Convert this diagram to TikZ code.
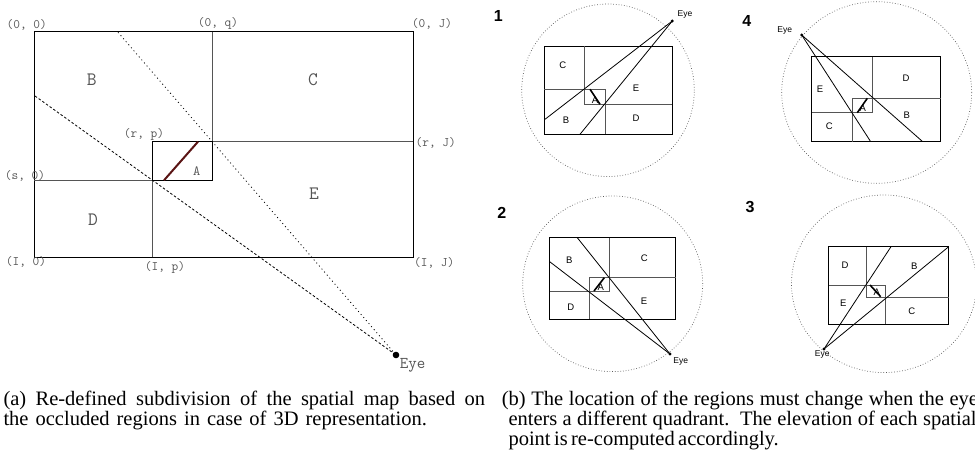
\documentclass[tikz,border=0pt]{standalone}
\usepackage{fontspec}
\setmainfont{Liberation Serif}
\setsansfont{Liberation Sans}

\begin{document}
\begin{tikzpicture}[x=1pt,y=-1pt,font=\sffamily,
  frame/.style={draw=black, line width=1.1pt},
  part/.style={draw=ink, line width=1.1pt},
  wall/.style={draw=wallred, line width=2pt},
  sight/.style={draw=black, line width=0.8pt, dash pattern=on 1pt off 3pt},
  sightdash/.style={draw=black, line width=0.8pt, dash pattern=on 2.5pt off 2pt},
  corner/.style={ink, inner sep=0pt, font=\ttfamily\fontsize{13}{13}\selectfont},
  region/.style={ink, inner sep=0pt, font=\ttfamily\fontsize{19}{19}\selectfont},
  qframe/.style={draw=black, line width=0.9pt},
  qpart/.style={draw=ink, line width=0.9pt},
  qwall/.style={draw=black, line width=1.6pt},
  ray/.style={draw=black, line width=0.8pt},
  rim/.style={draw=rimgray, line width=0.7pt, dotted},
  quad/.style={inner sep=0pt, font=\sffamily\fontsize{9.5}{10}\selectfont},
  quadno/.style={inner sep=0pt, font=\sffamily\bfseries\fontsize{16}{16}\selectfont},
  eyenote/.style={inner sep=0pt, font=\sffamily\fontsize{8.5}{9}\selectfont},
  capline/.style={anchor=base west, inner sep=0pt, font=\rmfamily\fontsize{20.5}{20}\selectfont}]
  \definecolor{ink}{RGB}{85,85,85}
  \definecolor{wallred}{RGB}{90,20,20}
  \definecolor{rimgray}{RGB}{90,90,90}

  \useasboundingbox (0,0) rectangle (975,465);
  \clip (0,0) rectangle (975,465);

  % (a) spatial map
  \draw[frame] (34.3,31.7) rectangle (413.3,257.3);
  \draw[part] (212.7,31.7) -- (212.7,180.3) -- (34.3,180.3);
  \draw[part] (152.3,257.3) -- (152.3,141.7) -- (413.3,141.7);
  \draw[frame] (152.3,141.7) rectangle (212.7,180.3);
  \draw[wall] (164,180.3) -- (198,141.7);

  \coordinate (eye) at (396,355);
  \coordinate (farB) at (118,32.3);
  \coordinate (farD) at (35,96);
  \draw[sight] (farB) -- (eye);
  \draw[sightdash] (farD) -- (eye);
  \fill (eye) circle (3.3pt);
  \node[region, font=\ttfamily\fontsize{16.5}{17}\selectfont] (eyelbl) at (412.7,365) {Eye};

  \foreach \a/\b/\x/\y in {
    0/0/26.7/25,
    0/q/218/23.3,
    0/J/432/24.3,
    r/p/144/134,
    r/J/435.7/142.7,
    s/0/25/175.7,
    I/0/26/261.7,
    I/p/165/267.7,
    I/J/434.3/262.7
  } {
    \node[corner] (pt\a\b) at (\x,\y) {(\a, \b)};
  }

  \foreach \r/\x/\y in {B/91.7/80, C/313/80, D/93/220, E/314/194} {
    \node[region] (reg\r) at (\x,\y) {\r};
  }
  \node[region, font=\ttfamily\fontsize{14}{14}\selectfont] (regA) at (196.7,170.7) {A};

  % quadrant 1
  \node[quadno] (no1) at (498.3,15.7) {1};
  \draw[rim] (608,90.3) circle (86.3pt);
  \draw[qframe] (544.3,46) rectangle (672.3,134.3);
  \draw[qpart] (584.3,46) -- (584.3,104.3) -- (672.3,104.3);
  \draw[qpart] (544.3,89.3) -- (605,89.3) -- (605,134.3);
  \draw[qwall] (590,89.3) -- (600,104.3);
  \coordinate (eye1) at (672.3,21);
  \coordinate (end1a) at (545,119.3);
  \coordinate (end1b) at (580,134.3);
  \draw[ray] (eye1) -- (end1a);
  \draw[ray] (eye1) -- (end1b);
  \fill (eye1) circle (1.6pt);
  \node[eyenote] (eyelbl1) at (685,14.7) {Eye};
  \foreach \r/\x/\y in {C/562.7/65, E/636/88.3, A/595/100, B/566/120.7, D/636/118.3} {
    \node[quad] (q1\r) at (\x,\y) {\r};
  }

  % quadrant 4
  \node[quadno] (no4) at (746.7,20.7) {4};
  \draw[rim] (876.7,92.5) ellipse [x radius=95pt, y radius=90.8pt];
  \draw[qframe] (811.7,56.7) rectangle (940.7,141.7);
  \draw[qpart] (872.3,56.7) -- (872.3,112.7) -- (811.7,112.7);
  \draw[qpart] (940.7,98.3) -- (852.3,98.3) -- (852.3,141.7);
  \draw[qwall] (857.3,112.7) -- (867.3,98.3);
  \coordinate (eye4) at (801.7,35);
  \coordinate (end4a) at (870.7,141.7);
  \coordinate (end4b) at (922.7,141.7);
  \draw[ray] (eye4) -- (end4a);
  \draw[ray] (eye4) -- (end4b);
  \fill (eye4) circle (1.6pt);
  \node[eyenote] (eyelbl4) at (784.7,30) {Eye};
  \foreach \r/\x/\y in {D/906/78.3, E/820/89.3, A/862.7/108.3, B/906.7/115, C/829.3/126.7} {
    \node[quad] (q4\r) at (\x,\y) {\r};
  }

  % quadrant 2
  \node[quadno] (no2) at (501.7,212.7) {2};
  \draw[rim] (612.7,283.8) ellipse [x radius=90pt, y radius=87.8pt];
  \draw[qframe] (549.7,237.7) rectangle (675.7,319);
  \draw[qpart] (609.3,237.7) -- (609.3,291) -- (549.7,291);
  \draw[qpart] (675.7,277.7) -- (589.3,277.7) -- (589.3,319);
  \draw[qwall] (594,291) -- (604.3,277.7);
  \coordinate (eye2) at (670,354);
  \coordinate (end2a) at (577.3,237.7);
  \coordinate (end2b) at (549.7,261.7);
  \draw[ray] (eye2) -- (end2a);
  \draw[ray] (eye2) -- (end2b);
  \fill (eye2) circle (1.6pt);
  \node[eyenote] (eyelbl2) at (680.8,361.7) {Eye};
  \foreach \r/\x/\y in {B/569.3/260, C/644.3/258.3, A/600.7/287.7, E/644/301, D/570.7/307.3} {
    \node[quad] (q2\r) at (\x,\y) {\r};
  }

  % quadrant 3
  \node[quadno] (no3) at (750,206.7) {3};
  \draw[rim] (884,283.8) ellipse [x radius=92.5pt, y radius=88.8pt];
  \draw[qframe] (828.7,246.7) rectangle (948.7,324.3);
  \draw[qpart] (866,246.7) -- (866,297.7) -- (948.7,297.7);
  \draw[qpart] (828.7,285) -- (885.3,285) -- (885.3,324.3);
  \draw[qwall] (870,285) -- (880.7,296.7);
  \coordinate (eye3) at (824,349);
  \coordinate (end3a) at (891,246.7);
  \coordinate (end3b) at (948.7,246.7);
  \draw[ray] (eye3) -- (end3a);
  \draw[ray] (eye3) -- (end3b);
  \fill (eye3) circle (1.6pt);
  \node[eyenote] (eyelbl3) at (822.3,354.5) {Eye};
  \foreach \r/\x/\y in {D/845/265, B/914.3/266, A/876.7/292.3, E/843.3/303.3, C/911.7/311.7} {
    \node[quad] (q3\r) at (\x,\y) {\r};
  }

  % captions
  \node[capline] (capa1) at (3.3,405.5) {\makebox[481.7pt][s]{(a) Re-defined subdivision of the spatial map based on}};
  \node[capline] (capa2) at (3.3,425.5) {\makebox[423.4pt][s]{the occluded regions in case of 3D representation.}};
  \node[capline] (capb1) at (501.7,405.5) {\makebox[476pt][s]{(b) The location of the regions must change when the eye}};
  \node[capline] (capb2) at (508.3,425.5) {\makebox[468pt][s]{enters a different quadrant.\ \ The elevation of each spatial}};
  \node[capline] (capb3) at (508.3,445) {\makebox[268.4pt][s]{point is re-computed accordingly.}};
\end{tikzpicture}
\end{document}
